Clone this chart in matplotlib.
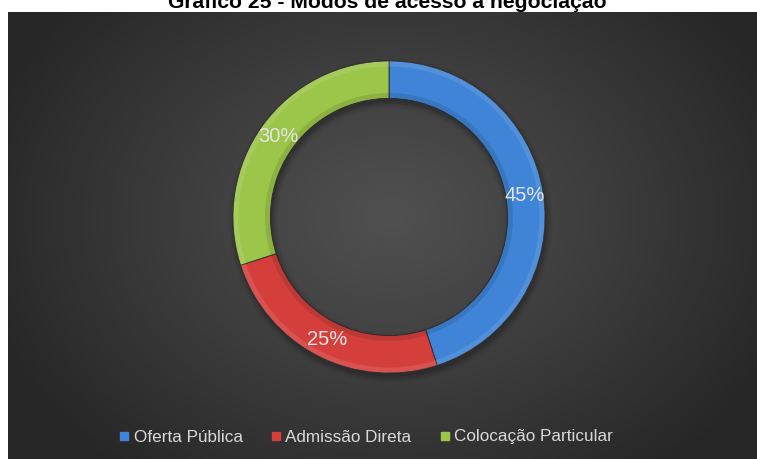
import numpy as np
import matplotlib
matplotlib.use('Agg')
import matplotlib.pyplot as plt
from matplotlib.lines import Line2D
from matplotlib.patches import Wedge

plt.rcParams['font.family'] = ['Liberation Sans', 'DejaVu Sans']

#=== Data ===
categories = ['Oferta Pública', 'Admissão Direta', 'Colocação Particular']
shares = [45, 25, 30]
colors = ['#3f84d6', '#d43f3c', '#9cc64a']
title = 'Gráfico 25 - Modos de acesso à negociação'

W, H = 757, 459
fig = plt.figure(figsize=(W / 100, H / 100), dpi=100)
fig.patch.set_facecolor('white')

#=== Dark panel with radial gradient ===
bg = fig.add_axes([8 / W, 0, (W - 8) / W, 447 / H])
bg.set_axis_off()
ny, nx = 447, 749
yy, xx = np.mgrid[0:ny, 0:nx]
cx, cy = 381, 205
d = np.sqrt(((xx - cx) / 430) ** 2 + ((yy - cy) / 330) ** 2)
d = np.clip(d, 0, 1)
shade = 0x50 - (0x50 - 0x26) * d ** 1.1
img = np.dstack([shade, shade, shade]) / 255
bg.imshow(img, aspect='auto', interpolation='bilinear')

#=== Title (sits above the panel, top edge runs off the figure) ===
fig.text(387 / W, 1 - 8 / H, title, ha='center', va='baseline',
         fontsize=15.2, fontweight='bold', color='black')

#=== Donut ===
R_px = 156
size = 2.5 * R_px
ccx, ccy = 389, 217
ax = fig.add_axes([(ccx - size / 2) / W, (H - ccy - size / 2) / H, size / W, size / H])
ax.set_facecolor('none')

# soft shadow under the ring
for k, a in enumerate([0.10, 0.08, 0.06, 0.04]):
    ax.add_patch(Wedge((0.01, -0.025), 1.0 + 0.012 * k, 0, 360,
                       width=0.24 + 0.024 * k, facecolor='black', alpha=a,
                       edgecolor='none'))

wedges, texts, autotexts = ax.pie(
    shares, colors=colors, startangle=90, counterclock=False,
    radius=1.0, wedgeprops=dict(width=0.24, edgecolor='#2a2a2a', linewidth=0.6),
    autopct=lambda p: f'{p:.0f}%', pctdistance=0.88,
    textprops=dict(color='#e4e4e4', fontsize=14.5))

# bevel highlight on outer and inner edges
for w, c in zip(wedges, colors):
    ax.add_patch(Wedge((0, 0), 1.0, w.theta1, w.theta2, width=0.035,
                       facecolor='white', alpha=0.10, edgecolor='none'))
    ax.add_patch(Wedge((0, 0), 0.795, w.theta1, w.theta2, width=0.035,
                       facecolor='black', alpha=0.10, edgecolor='none'))
for t in autotexts:
    t.set_zorder(5)

ax.set_xlim(-1.25, 1.25)
ax.set_ylim(-1.25, 1.25)
ax.set_aspect('equal')
ax.set_axis_off()

#=== Legend ===
handles = [Line2D([0], [0], marker='s', linestyle='none', markersize=6,
                  markerfacecolor=c, markeredgecolor=c) for c in colors]
leg = fig.legend(handles, categories, loc='center', ncol=3,
                 bbox_to_anchor=(0.484, 1 - 437 / H), frameon=False,
                 fontsize=12.3, labelcolor='#d9d9d9', handlelength=0.5,
                 handletextpad=0.3, columnspacing=1.7)

fig.savefig('out.png', dpi=100, facecolor='white')
